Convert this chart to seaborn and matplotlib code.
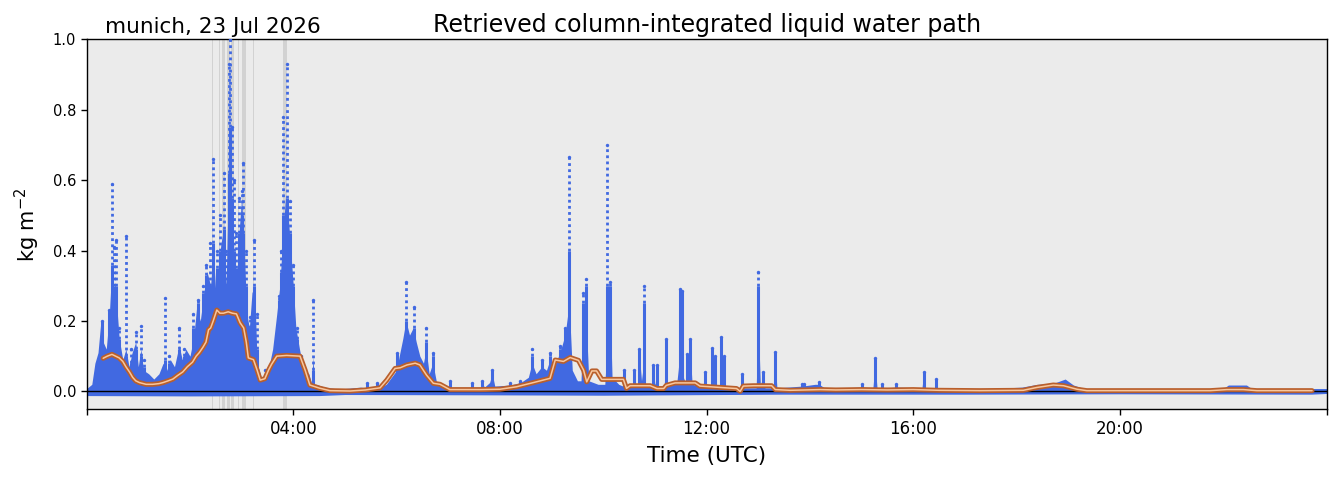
import matplotlib
matplotlib.use("Agg")
import matplotlib.pyplot as plt
import matplotlib.patheffects as pe
import seaborn as sns

# dense core of the retrieval scatter (hours UTC, kg m-2)
band_t = [0.00, 0.10, 0.16, 0.22, 0.27, 0.32, 0.38, 0.44, 0.49, 0.54, 0.58, 0.63, 0.70, 0.76,
          0.82, 0.88, 0.95, 1.00, 1.05, 1.10, 1.20, 1.30, 1.40, 1.48, 1.55, 1.62, 1.70, 1.79,
          1.85, 1.92, 2.00, 2.07, 2.13, 2.20, 2.27, 2.33, 2.40, 2.45, 2.50, 2.55, 2.60, 2.65,
          2.70, 2.75, 2.80, 2.85, 2.90, 2.95, 3.00, 3.05, 3.10, 3.15, 3.20, 3.25, 3.30, 3.40,
          3.50, 3.60, 3.68, 3.74, 3.80, 3.85, 3.90, 3.95, 4.00, 4.05, 4.12, 4.20, 4.30, 4.36,
          4.38, 4.41, 4.45, 4.60, 4.80, 5.00, 5.30, 5.40, 5.42, 5.45, 5.60, 5.62, 5.65, 5.80,
          5.90, 6.00, 6.05, 6.12, 6.18, 6.25, 6.32, 6.38, 6.45, 6.52, 6.57, 6.63, 6.70, 6.78,
          6.90, 7.00, 7.03, 7.06, 7.20, 7.42, 7.45, 7.48, 7.62, 7.65, 7.70, 7.80, 7.85, 7.90,
          8.20, 8.40, 8.55, 8.62, 8.70, 8.81, 8.90, 8.97, 9.05, 9.16, 9.26, 9.34, 9.40, 9.50,
          9.57, 9.60, 9.67, 9.72, 9.90, 10.03, 10.07, 10.13, 10.17, 10.30, 10.38, 10.40, 10.43,
          10.57, 10.60, 10.63, 10.68, 10.70, 10.74, 10.78, 10.82, 10.94, 10.97, 11.00, 11.04,
          11.07, 11.18, 11.21, 11.24, 11.42, 11.45, 11.50, 11.55, 11.60, 11.63, 11.68, 11.72,
          11.93, 11.96, 11.99, 12.08, 12.11, 12.14, 12.16, 12.19, 12.25, 12.28, 12.31, 12.33,
          12.36, 12.50, 12.65, 12.68, 12.71, 12.96, 13.00, 13.04, 13.10, 13.13, 13.30, 13.33,
          13.36, 13.85, 14.10, 14.18, 14.30, 15.00, 15.22, 15.26, 15.30, 15.67, 16.17, 16.20,
          16.24, 16.41, 16.44, 16.47, 17.50, 18.10, 18.40, 18.70, 18.94, 19.10, 19.30, 22.00,
          22.10, 22.45, 22.55, 24.00]
band_hi = [0.008, 0.02, 0.08, 0.11, 0.19, 0.14, 0.12, 0.22, 0.36, 0.22, 0.25, 0.15, 0.09, 0.12,
           0.07, 0.11, 0.14, 0.07, 0.12, 0.06, 0.05, 0.035, 0.05, 0.08, 0.06, 0.09, 0.07, 0.13,
           0.09, 0.12, 0.10, 0.15, 0.24, 0.20, 0.28, 0.34, 0.30, 0.40, 0.28, 0.35, 0.42, 0.46,
           0.30, 0.62, 0.55, 0.40, 0.30, 0.45, 0.55, 0.40, 0.22, 0.18, 0.28, 0.30, 0.08, 0.03,
           0.05, 0.12, 0.22, 0.30, 0.45, 0.55, 0.50, 0.40, 0.30, 0.18, 0.12, 0.06, 0.05, 0.02,
           0.10, 0.02, 0.02, 0.012, 0.008, 0.008, 0.012, 0.01, 0.025, 0.01, 0.01, 0.025, 0.01, 0.02,
           0.04, 0.06, 0.10, 0.15, 0.20, 0.16, 0.18, 0.14, 0.10, 0.08, 0.12, 0.05, 0.08, 0.02,
           0.012, 0.01, 0.03, 0.01, 0.01, 0.01, 0.02, 0.01, 0.01, 0.025, 0.012, 0.025, 0.05, 0.015,
           0.018, 0.025, 0.04, 0.08, 0.05, 0.07, 0.06, 0.09, 0.07, 0.11, 0.16, 0.25, 0.06, 0.03,
           0.03, 0.15, 0.20, 0.03, 0.02, 0.02, 0.12, 0.25, 0.04, 0.02, 0.015, 0.05, 0.015,
           0.015, 0.05, 0.02, 0.02, 0.10, 0.03, 0.08, 0.02, 0.02, 0.06, 0.02, 0.03,
           0.01, 0.015, 0.10, 0.02, 0.02, 0.06, 0.14, 0.04, 0.02, 0.09, 0.12, 0.02,
           0.015, 0.04, 0.015, 0.015, 0.10, 0.02, 0.06, 0.015, 0.015, 0.12, 0.02, 0.06,
           0.01, 0.01, 0.01, 0.04, 0.01, 0.01, 0.20, 0.02, 0.04, 0.01, 0.01, 0.09,
           0.01, 0.015, 0.02, 0.02, 0.008, 0.012, 0.01, 0.08, 0.008, 0.012, 0.01, 0.05,
           0.008, 0.008, 0.03, 0.008, 0.008, 0.012, 0.02, 0.022, 0.035, 0.018, 0.008, 0.008,
           0.018, 0.018, 0.008, 0.008]

# lower edge of the scatter (negative retrievals around zero)
floor_t = [0.0, 2.0, 4.5, 5.0, 8.0, 10.0, 13.5, 17.0, 20.0, 23.7, 24.0]
floor_lwp = [-0.012, -0.013, -0.012, -0.009, -0.010, -0.011, -0.008, -0.008, -0.007, -0.008, -0.006]

# single vertical streaks: time, top of the solid part, top of the sparse dots
spike_t = [0.29, 0.44, 0.49, 0.53, 0.57, 0.62, 0.76, 0.85, 0.95, 1.05, 1.12, 1.52, 1.60, 1.79,
           1.88, 2.05, 2.15, 2.25, 2.32, 2.39, 2.45, 2.52, 2.58, 2.66, 2.70, 2.75, 2.77, 2.81,
           2.85, 2.90, 2.95, 3.00, 3.03, 3.08, 3.16, 3.24, 3.30, 3.45, 3.73, 3.77, 3.81, 3.87,
           3.94, 4.00, 4.07, 4.15, 4.39, 5.42, 5.62, 6.00, 6.18, 6.34, 6.57, 6.70, 7.03, 7.45,
           7.65, 7.84, 8.19, 8.38, 8.62, 8.81, 8.97, 9.16, 9.26, 9.34, 9.60, 9.67, 10.07, 10.13,
           10.40, 10.60, 10.70, 10.78, 10.97, 11.04, 11.21, 11.49, 11.52, 11.63, 11.68, 11.96,
           12.11, 12.16, 12.28, 12.33, 12.68, 13.00, 13.10, 13.33, 13.85, 13.89, 14.18, 15.00,
           15.26, 15.40, 15.67, 16.20, 16.44]
spike_mid = [0.20, 0.23, 0.36, 0.30, 0.30, 0.15, 0.10, 0.08, 0.12, 0.10, 0.07, 0.09, 0.08, 0.12,
             0.10, 0.18, 0.25, 0.28, 0.33, 0.30, 0.42, 0.35, 0.40, 0.46, 0.30, 0.62, 0.75, 0.55,
             0.40, 0.35, 0.45, 0.50, 0.45, 0.30, 0.18, 0.30, 0.12, 0.04, 0.26, 0.34, 0.50, 0.55,
             0.45, 0.30, 0.15, 0.09, 0.06, 0.025, 0.024, 0.11, 0.20, 0.18, 0.14, 0.10, 0.03, 0.025,
             0.03, 0.06, 0.025, 0.03, 0.10, 0.09, 0.10, 0.12, 0.18, 0.40, 0.25, 0.30, 0.30, 0.30,
             0.06, 0.06, 0.12, 0.25, 0.075, 0.075, 0.15, 0.29, 0.285, 0.106, 0.148, 0.055,
             0.122, 0.10, 0.153, 0.10, 0.05, 0.30, 0.055, 0.112, 0.022, 0.022, 0.027, 0.02,
             0.096, 0.022, 0.02, 0.056, 0.034]
spike_top = [0.20, 0.23, 0.59, 0.41, 0.43, 0.18, 0.44, 0.12, 0.17, 0.185, 0.09, 0.265, 0.10, 0.18,
             0.12, 0.22, 0.26, 0.30, 0.36, 0.42, 0.66, 0.40, 0.50, 0.62, 0.40, 0.93, 1.00, 0.75,
             0.60, 0.45, 0.55, 0.57, 0.65, 0.40, 0.21, 0.43, 0.22, 0.06, 0.27, 0.40, 0.78, 0.93,
             0.54, 0.36, 0.18, 0.10, 0.26, 0.025, 0.024, 0.11, 0.31, 0.24, 0.18, 0.11, 0.03, 0.025,
             0.03, 0.06, 0.025, 0.03, 0.12, 0.09, 0.11, 0.13, 0.18, 0.665, 0.28, 0.32, 0.70, 0.31,
             0.06, 0.06, 0.12, 0.30, 0.075, 0.075, 0.15, 0.29, 0.285, 0.106, 0.148, 0.055,
             0.122, 0.10, 0.153, 0.10, 0.05, 0.338, 0.055, 0.112, 0.022, 0.022, 0.027, 0.02,
             0.096, 0.022, 0.02, 0.056, 0.034]

# running mean
mean_t = [0.32, 0.40, 0.49, 0.56, 0.63, 0.70, 0.76, 0.83, 0.89, 0.95, 1.02, 1.15, 1.28, 1.40,
          1.48, 1.58, 1.67, 1.76, 1.86, 1.95, 2.05, 2.12, 2.18, 2.25, 2.31, 2.36, 2.40, 2.45,
          2.52, 2.58, 2.65, 2.74, 2.82, 2.90, 2.97, 3.04, 3.09, 3.13, 3.23, 3.30, 3.36, 3.45,
          3.52, 3.58, 3.68, 3.87, 4.13, 4.18, 4.23, 4.32, 4.51, 4.71, 5.10, 5.40, 5.68, 5.81,
          5.97, 6.07, 6.20, 6.36, 6.45, 6.58, 6.71, 6.84, 7.03, 7.61, 8.00, 8.32, 8.65, 8.97,
          9.07, 9.23, 9.36, 9.52, 9.62, 9.68, 9.78, 9.87, 9.97, 10.39, 10.45, 10.52, 10.91,
          11.04, 11.17, 11.22, 11.39, 11.78, 11.87, 12.58, 12.65, 12.71, 12.91, 13.26, 13.33,
          13.62, 14.20, 14.50, 15.00, 15.50, 16.00, 16.50, 17.29, 18.13, 18.39, 18.71, 18.91,
          19.17, 19.36, 21.75, 22.07, 22.39, 22.65, 23.72]
mean_lwp = [0.094, 0.10, 0.105, 0.10, 0.095, 0.085, 0.07, 0.055, 0.04, 0.03, 0.025, 0.02, 0.02, 0.022,
            0.025, 0.03, 0.035, 0.045, 0.055, 0.07, 0.083, 0.10, 0.11, 0.125, 0.14, 0.175, 0.18, 0.20,
            0.231, 0.222, 0.222, 0.226, 0.222, 0.22, 0.195, 0.18, 0.14, 0.095, 0.09, 0.06, 0.032, 0.036,
            0.06, 0.077, 0.10, 0.102, 0.10, 0.08, 0.06, 0.018, 0.009, 0.002, 0.001, 0.004, 0.01, 0.032,
            0.065, 0.067, 0.075, 0.08, 0.075, 0.046, 0.023, 0.02, 0.005, 0.005, 0.006, 0.013, 0.025, 0.037,
            0.089, 0.085, 0.096, 0.088, 0.06, 0.027, 0.058, 0.058, 0.034, 0.034, 0.0085, 0.016, 0.016,
            0.008, 0.008, 0.017, 0.024, 0.024, 0.015, 0.008, 0.0, 0.015, 0.016, 0.016, 0.005,
            0.003, 0.005, 0.004, 0.005, 0.004, 0.005, 0.003, 0.002, 0.003, 0.011, 0.018, 0.016,
            0.006, 0.002, 0.002, 0.005, 0.005, 0.002, 0.002]

# rain flag periods
rain_start = [2.426, 2.561, 2.614, 2.716, 2.788, 2.929, 2.962, 3.001, 3.220, 3.806]
rain_end = [2.445, 2.581, 2.678, 2.769, 2.846, 2.943, 2.974, 3.078, 3.233, 3.872]

xtick_pos = [0, 4, 8, 12, 16, 20, 24]
xtick_lab = ["", "04:00", "08:00", "12:00", "16:00", "20:00", ""]

sns.set_theme(style="ticks", rc={"axes.facecolor": "#ebebeb", "axes.edgecolor": "black",
                                 "xtick.color": "black", "ytick.color": "black",
                                 "text.color": "black", "axes.labelcolor": "black"})
plt.rcParams['font.family'] = ['DejaVu Sans']

fig, ax = plt.subplots(figsize=(13.39, 4.78), dpi=100)
fig.subplots_adjust(left=0.0647, right=0.9907, top=0.9178, bottom=0.1437)

for a, b in zip(rain_start, rain_end):
    ax.axvspan(a, b, color="#d2d2d2", lw=0, zorder=1)

blue = "royalblue"
ax.fill_between(floor_t, floor_lwp, 0.004, color=blue, lw=0, zorder=2)
ax.fill_between(band_t, 0, band_hi, color=blue, lw=0, zorder=2)
ax.vlines(spike_t, 0, spike_mid, color=blue, lw=2.2, zorder=2)
ax.vlines(spike_t, spike_mid, spike_top, color=blue, lw=2.0, linestyles=(0, (1, 1.2)), zorder=2)
sns.scatterplot(x=spike_t, y=spike_top, color=blue, s=6, linewidth=0, ax=ax, zorder=3)

ax.axhline(0, color="black", lw=1, zorder=3)

sns.lineplot(x=mean_t, y=mean_lwp, color="#f8c79e", lw=1.1, ax=ax, zorder=4,
             path_effects=[pe.Stroke(linewidth=3.6, foreground="#b95f2c"), pe.Normal()])

ax.set_xlim(0, 24)
ax.set_ylim(-0.051, 1.0)
ax.set_xticks(xtick_pos)
ax.set_xticklabels(xtick_lab)
ax.set_yticks([0.0, 0.2, 0.4, 0.6, 0.8, 1.0])
ax.set_yticklabels(["0.0", "0.2", "0.4", "0.6", "0.8", "1.0"])
ax.tick_params(direction="out", length=4, width=1, colors="black")
ax.tick_params(axis="x", labelsize=12)
ax.tick_params(axis="y", labelsize=10.5)
for s in ax.spines.values():
    s.set_visible(True)
    s.set_linewidth(1)

ax.set_xlabel("Time (UTC)", fontsize=15.5, labelpad=6, color="black")
ax.set_ylabel("kg m$^{-2}$", fontsize=15, labelpad=8, color="black")
ax.set_title("Retrieved column-integrated liquid water path", fontsize=17, pad=5, color="black")
ax.text(0.015, 1.016, "munich, 23 Jul 2026", transform=ax.transAxes, fontsize=15.5,
        va="baseline", color="black")

fig.savefig("out.png", dpi=100)
